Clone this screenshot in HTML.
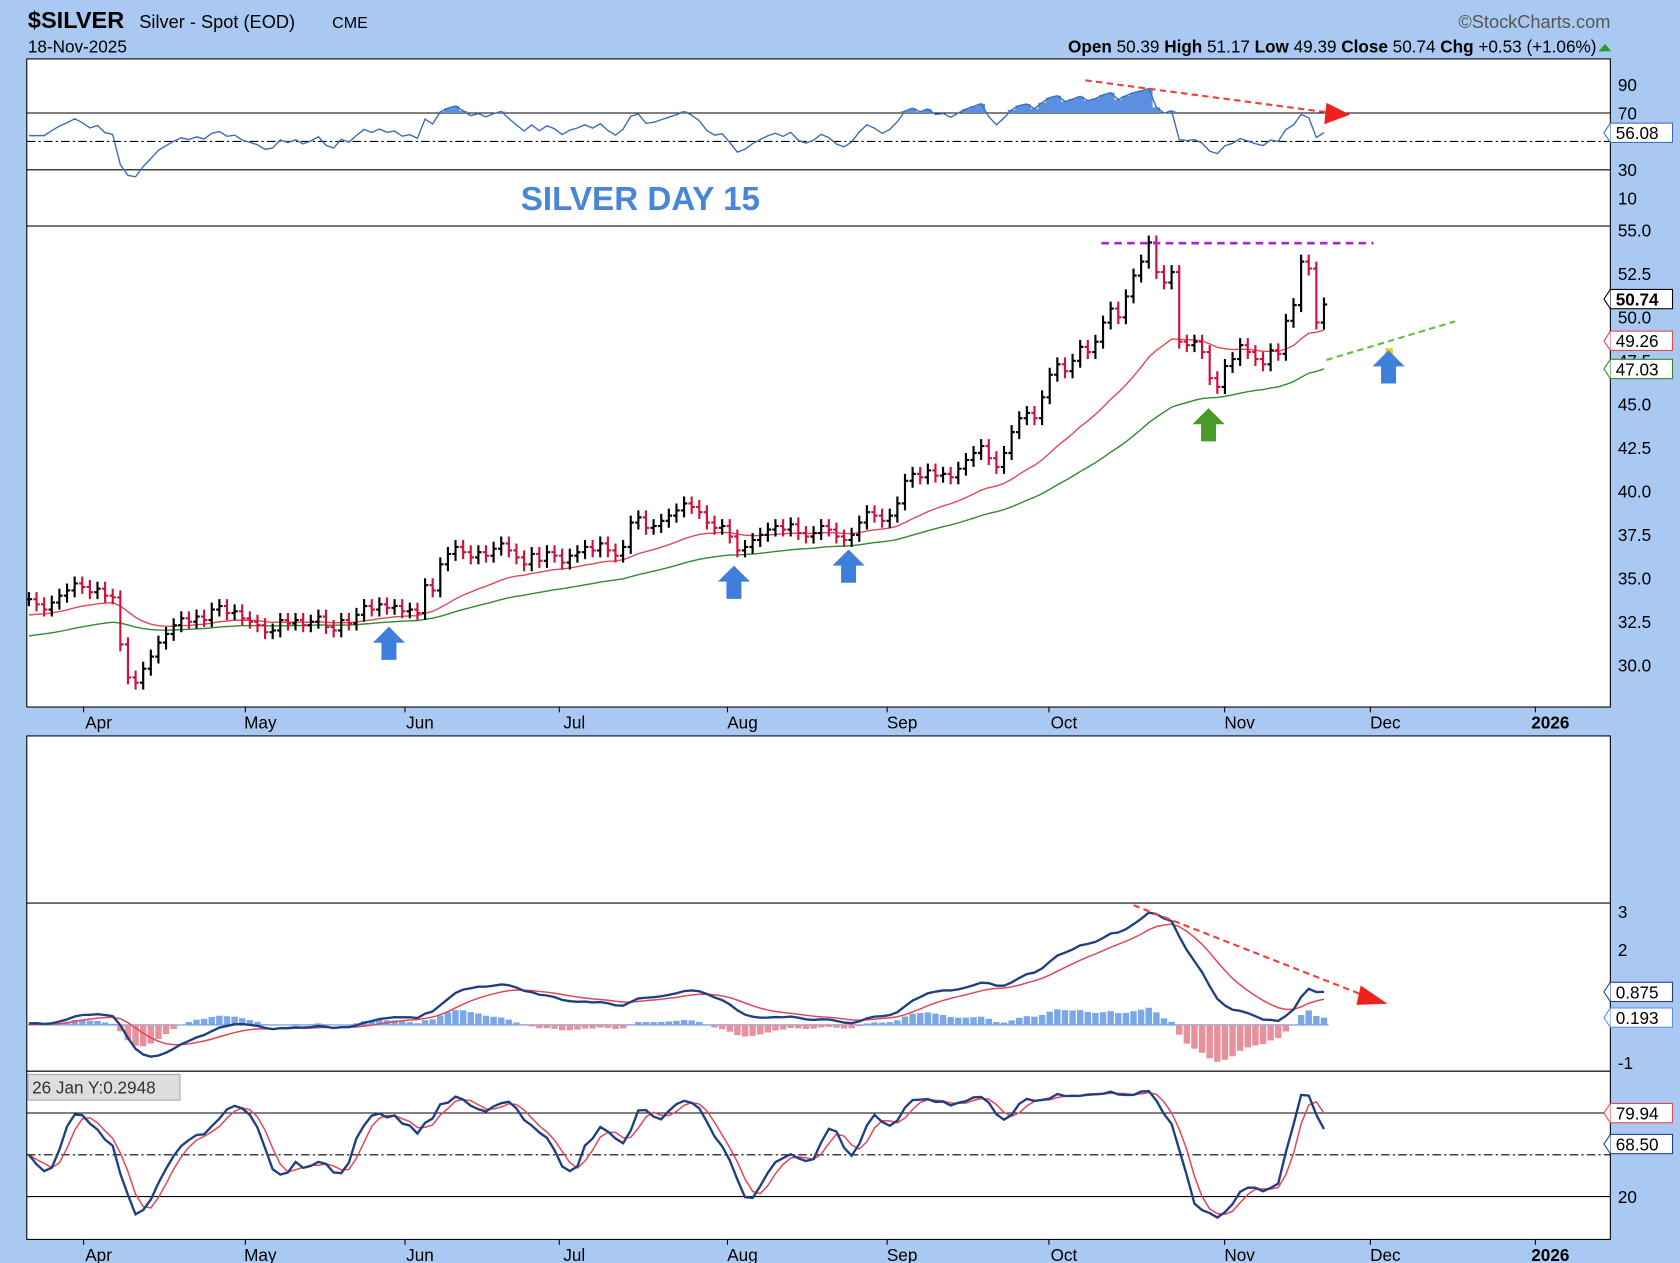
<!DOCTYPE html>
<html><head><meta charset="utf-8"><style>
html,body{margin:0;padding:0;background:#a9c9f2;}
svg{display:block;font-family:"Liberation Sans",sans-serif;}
</style></head><body>
<svg id="chart" width="1680" height="1263" viewBox="0 0 1568 1179" preserveAspectRatio="none" xmlns="http://www.w3.org/2000/svg">
<defs>
<clipPath id="cR"><rect x="25" y="55" width="1478" height="156"/></clipPath>
<clipPath id="cP"><rect x="25" y="211" width="1478" height="449"/></clipPath>
<clipPath id="cM"><rect x="25" y="843" width="1478" height="157"/></clipPath>
<clipPath id="cS"><rect x="25" y="1000" width="1478" height="157"/></clipPath>
</defs>
<rect x="0" y="0" width="1568" height="1179" fill="#a9c9f2"/>
<g font-size="17">
<text x="26" y="26" font-size="22" font-weight="bold">$SILVER</text>
<text x="130" y="26">Silver - Spot (EOD)</text><text x="310" y="26" font-size="15">CME</text>
<text x="26" y="49" font-size="16">18-Nov-2025</text>
<text x="1503" y="26" text-anchor="end" fill="#555" font-size="17">©StockCharts.com</text>
<text x="1490" y="49" text-anchor="end" font-size="16"><tspan font-weight="bold">Open</tspan> 50.39 <tspan font-weight="bold">High</tspan> 51.17 <tspan font-weight="bold">Low</tspan> 49.39 <tspan font-weight="bold">Close</tspan> 50.74 <tspan font-weight="bold">Chg</tspan> +0.53 (+1.06%)</text>
<path d="M1492 48 l6 -7 l6 7z" fill="#2a9a2a"/>
</g>
<rect x="25" y="55" width="1478" height="156" fill="#fff" stroke="#000"/>
<rect x="25" y="211" width="1478" height="449" fill="#fff" stroke="#000"/>
<rect x="25" y="687" width="1478" height="156" fill="#fff" stroke="#000"/>
<rect x="25" y="843" width="1478" height="157" fill="#fff" stroke="#000"/>
<rect x="25" y="1000" width="1478" height="157" fill="#fff" stroke="#000"/>
<g id="layer"></g>
<text x="486" y="196" font-size="31" font-weight="bold" fill="#4a86d8">SILVER DAY 15</text>
</svg>
<script>
const closes=[33.8,33.5,33.2,33.6,34.0,34.3,34.7,34.5,34.2,34.4,34.0,33.9,31.2,29.3,29.0,29.8,30.5,31.3,31.8,32.3,32.7,32.5,32.8,32.6,33.2,33.4,33.0,33.1,32.7,32.5,32.3,31.9,32.0,32.6,32.4,32.6,32.3,32.5,32.8,32.2,32.0,32.6,32.4,32.9,33.4,33.2,33.5,33.3,33.4,33.1,33.2,33.0,34.6,34.3,35.8,36.4,36.8,36.5,36.2,36.5,36.3,36.7,37.0,36.6,36.2,35.8,36.4,36.0,36.5,36.3,35.9,36.3,36.5,36.8,36.6,37.0,36.6,36.3,36.8,38.2,38.5,37.9,38.0,38.3,38.6,38.9,39.3,39.1,38.8,38.2,37.9,38.0,37.4,36.6,36.8,37.2,37.5,37.8,38.0,37.8,38.1,37.6,37.4,37.6,38.0,37.8,37.4,37.2,37.5,38.2,38.8,38.6,38.3,38.6,39.3,40.6,41.0,40.8,41.2,40.9,41.0,40.8,41.3,41.8,42.2,42.6,41.9,41.4,42.2,43.4,44.2,44.5,44.2,45.4,46.7,47.3,46.9,47.5,48.3,48.0,48.6,49.7,50.5,50.0,51.2,52.4,53.2,54.3,52.6,52.0,52.6,48.6,48.4,48.6,48.0,46.5,46.0,47.2,47.6,48.4,48.0,47.6,47.3,48.1,47.9,49.8,50.7,53.2,52.8,49.7,50.74];
const monthLabels=["Apr","May","Jun","Jul","Aug","Sep","Oct","Nov","Dec","2026"];
const monthX=[92,243,392,536,693,842,993,1157,1293,1447];
const priceTicks=[55.0,52.5,50.0,47.5,45.0,42.5,40.0,37.5,35.0,32.5,30.0];
const rsiTicks=[90,70,50,30,10];
const macdTicks=[3,2,1,0,-1];
const stochTicks=[80,50,20];
const maSeeds=[32.8,31.6];

const NS="http://www.w3.org/2000/svg";
const L=document.getElementById('layer');
function el(t,a,p){const e=document.createElementNS(NS,t);for(const k in a)e.setAttribute(k,a[k]);(p||L).appendChild(e);return e;}
const xS=i=>27+7.11*i;
const yP=p=>215+(55-p)*16.24;
const yR=v=>198.25-1.325*v;
const yM=v=>956.75-35.25*v;
const yS=v=>1143-1.3*v;
const n=closes.length;
const opens=closes.map((c,i)=>i?closes[i-1]:c);
const highs=closes.map((c,i)=>Math.max(c,opens[i])+0.4);
const lows=closes.map((c,i)=>Math.min(c,opens[i])-0.4);
function ema(arr,p,seed){const k=2/(p+1);let e=seed===undefined?arr[0]:seed;return arr.map(v=>e=v*k+e*(1-k));}
function path(vals,ys,start){return vals.map((v,i)=>(i?'L':'M')+xS(i+(start||0)).toFixed(1)+' '+ys(v).toFixed(1)).join(' ');}

const gR=el('g',{'clip-path':'url(#cR)'});

[70,30].forEach(v=>el('line',{x1:25,x2:1503,y1:yR(v),y2:yR(v),stroke:'#000','stroke-width':1},gR));
el('line',{x1:25,x2:1503,y1:yR(50),y2:yR(50),stroke:'#000','stroke-dasharray':'8 3 2 3'},gR);
let ag=0,al=0;const rsi=[];
closes.forEach((c,i)=>{const d=i?c-closes[i-1]:0;ag=(ag*13+Math.max(d,0))/14;al=(al*13+Math.max(-d,0))/14;if(i<3){ag=0.2;al=0.17;}rsi.push(100-100/(1+ag/(al||1e-6)));});
let fillD='';rsi.forEach((v,i)=>{if(v>70){fillD+=`M${xS(i)-3.6} ${yR(70)} L${xS(i)-3.6} ${yR(v)} L${xS(i)+3.6} ${yR(v)} L${xS(i)+3.6} ${yR(70)}Z`;}});
const rf=el('path',{d:fillD,fill:'#5b8fe0'},gR);

const rl=el('path',{d:path(rsi,yR),fill:'none',stroke:'#3d6db5','stroke-width':1.3},gR);


const gP=el('g',{'clip-path':'url(#cP)'});

const ma20=ema(closes,24,maSeeds[0]),ma50=ema(closes,54,maSeeds[1]);
const m1=el('path',{d:path(ma20,yP),fill:'none',stroke:'#e04858','stroke-width':1.3},gP);

const m2=el('path',{d:path(ma50,yP),fill:'none',stroke:'#2e8b2e','stroke-width':1.3},gP);

closes.forEach((c,i)=>{const col=c<opens[i]?'#d0103a':'#000';const x=xS(i);
 const b=el('path',{d:`M${x} ${yP(highs[i])}V${yP(lows[i])}M${x-3} ${yP(opens[i])}H${x}M${x} ${yP(c)}H${x+3}`,stroke:col,'stroke-width':2,fill:'none'},gP);
 
 });

const gM=el('g',{'clip-path':'url(#cM)'});

const e12=ema(closes,12,33.3),e26=ema(closes,26,33.3);
const macd=e12.map((v,i)=>v-e26[i]);const sig=ema(macd,9,0);const hist=macd.map((v,i)=>v-sig[i]);
el('line',{x1:25,x2:1240,y1:yM(0),y2:yM(0),stroke:'#5b8fe0','stroke-width':1},gM);
hist.forEach((h,i)=>{const hb=el('rect',{x:xS(i)-3,y:Math.min(yM(0),yM(h)),width:6,height:Math.abs(yM(h)-yM(0)),fill:h>=0?'#7aa6ea':'#e8909c'},gM);
 
 });
const ms=el('path',{d:path(sig,yM),fill:'none',stroke:'#e04858','stroke-width':1.4},gM);

const ml=el('path',{d:path(macd,yM),fill:'none',stroke:'#1f3f80','stroke-width':2.2},gM);


const gS=el('g',{'clip-path':'url(#cS)'});

[80,20].forEach(v=>el('line',{x1:25,x2:1503,y1:yS(v),y2:yS(v),stroke:'#000'},gS));
el('line',{x1:25,x2:1503,y1:yS(50),y2:yS(50),stroke:'#000','stroke-dasharray':'8 3 2 3'},gS);
const rawK=closes.map((c,i)=>{const s=Math.max(0,i-13);const hh=Math.max(...highs.slice(s,i+1)),ll=Math.min(...lows.slice(s,i+1));return hh-ll?100*(c-ll)/(hh-ll):50;});
const sma=(a,p)=>a.map((v,i)=>{const s=a.slice(Math.max(0,i-p+1),i+1);return s.reduce((x,y)=>x+y,0)/s.length;});
const K=sma(rawK,3),D=sma(K,3);
const sd=el('path',{d:path(D,yS),fill:'none',stroke:'#e04858','stroke-width':1.4},gS);

const sk=el('path',{d:path(K,yS),fill:'none',stroke:'#1f3f80','stroke-width':2.2},gS);


function rlab(v,y,txt){const t=el('text',{x:1510,y:y+6,'font-size':16});t.textContent=txt;}
priceTicks.forEach(v=>rlab(v,yP(v),v.toFixed(1)));
rsiTicks.filter(v=>v!==50).forEach(v=>rlab(v,yR(v),String(v)));
macdTicks.filter(v=>v!==1&&v!==0).forEach(v=>rlab(v,yM(v),String(v)));
stochTicks.filter(v=>v!==50).forEach(v=>rlab(v,yS(v),String(v)));
[660,1157].forEach(y=>monthLabels.forEach((m,i)=>{const t=el('text',{x:monthX[i],y:y+20,'font-size':16,'text-anchor':'middle','font-weight':m==='2026'?'bold':'normal'});t.textContent=m;
 
 
 el('line',{x1:monthX[i]-14,x2:monthX[i]-14,y1:y,y2:y+5,stroke:'#000'});}));
function vbox(y,txt,col,bold){const r=el('rect',{x:1503,y:y-9,width:58,height:18,fill:'#fff',stroke:col});
 el('path',{d:`M1503 ${y-9} l-6 9 l6 9`,fill:'#fff',stroke:col});
 const t=el('text',{x:1508,y:y+6,'font-size':16,'font-weight':bold?'bold':'normal'});t.textContent=txt;}
vbox(yR(rsi[n-1]),rsi[n-1].toFixed(2),'#3d6db5');
vbox(yP(closes[n-1])-5,closes[n-1].toFixed(2),'#000',true);
vbox(yP(ma20[n-1])+10,ma20[n-1].toFixed(2),'#e04858');
vbox(yP(ma50[n-1]),ma50[n-1].toFixed(2),'#2e8b2e');
vbox(yM(macd[n-1]),macd[n-1].toFixed(3),'#1f3f80');
vbox(yM(hist[n-1]),hist[n-1].toFixed(3),'#5b8fe0');
vbox(yS(D[n-1]),D[n-1].toFixed(2),'#e04858');
vbox(yS(K[n-1])+14,K[n-1].toFixed(2),'#1f3f80');

const an=el('g',{});
el('line',{x1:1013,y1:75,x2:1240,y2:105,stroke:'#f04040','stroke-width':2,'stroke-dasharray':'6 4'},an);
el('path',{d:'M1238 96 L1260 107 L1236 116Z',fill:'#f02020'},an);
el('line',{x1:1058,y1:845,x2:1275,y2:930,stroke:'#f04040','stroke-width':2,'stroke-dasharray':'6 4'},an);
el('path',{d:'M1270 920 L1295 937 L1266 938Z',fill:'#f02020'},an);
el('line',{x1:1028,y1:227,x2:1282,y2:227,stroke:'#b020e0','stroke-width':2.5,'stroke-dasharray':'7 5'},an);
el('line',{x1:1238,y1:336,x2:1358,y2:300,stroke:'#60c040','stroke-width':2,'stroke-dasharray':'6 4'},an);
el('rect',{x:1293,y:325,width:7,height:7,fill:'#f0d020'},an);
function arrow(x,y,col){el('path',{d:`M${x} ${y-17} L${x+15} ${y-2} L${x+7} ${y-2} L${x+7} ${y+14} L${x-7} ${y+14} L${x-7} ${y-2} L${x-15} ${y-2}Z`,fill:col},an);}
[[363,602],[685,545],[792,530],[1296,344]].forEach(a=>arrow(a[0],a[1],'#3f7fdc'));
arrow(1128,398,'#4a9a2a');
el('rect',{x:26,y:1003,width:142,height:24,fill:'#ddd',stroke:'#aaa'},an);
const tt=el('text',{x:30,y:1021,'font-size':16,fill:'#333'},an);tt.textContent='26 Jan Y:0.2948';
</script>
</body></html>
